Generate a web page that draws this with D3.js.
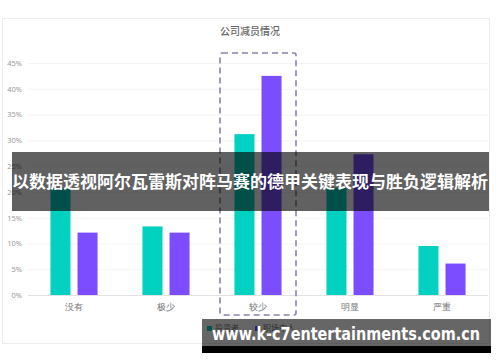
<!DOCTYPE html>
<html>
<head>
<meta charset="utf-8">
<script src="https://cdn.jsdelivr.net/npm/d3@7"></script>
<style>
  html, body { margin: 0; padding: 0; background: #fff; }
  svg { display: block; font-family: "Noto Sans CJK SC", "Noto Sans", sans-serif; }
</style>
</head>
<body>
<script>
const [W, H] = [500, 362];
const PLOT = { left: 28, right: 488, top: 63, bottom: 295 };

const CATEGORIES = ['没有', '极少', '较少', '明显', '严重'];
const SERIES_NAMES = ['投资者', '职场中人'];
const SERIES_A = [20.8, 13.3, 31.2, 20.8, 9.5];
const SERIES_B = [12.1, 12.1, 42.5, 27.3, 6.1];
const Y_TICKS = [0, 5, 10, 15, 20, 25, 30, 35, 40, 45];
const HIGHLIGHT = '较少';

const COLORS = ['#00d1c1', '#7b4dff'];

const svg = d3.select('body').append('svg').attr('width', W).attr('height', H);

// card
svg.append('rect')
    .attr('x', 2.5).attr('y', 18.5)
    .attr('width', 487).attr('height', 325)
    .attr('fill', '#fff')
    .attr('stroke', '#ececec');

// title
svg.append('text')
    .attr('x', 250).attr('y', 35)
    .attr('text-anchor', 'middle')
    .style('font-size', '10px')
    .style('font-weight', 500)
    .attr('fill', '#666')
    .text('公司减员情况');

const x = d3.scaleBand().domain(CATEGORIES).range([PLOT.left, PLOT.right]);
const xSub = d3.scaleBand().domain([0, 1]).range([0, x.bandwidth()])
    .paddingInner(0.26).paddingOuter(0.83);
const y = d3.scaleLinear().domain([0, 45]).range([PLOT.bottom, PLOT.top]);

// grid + y labels
const yAxis = d3.axisLeft(y)
    .tickValues(Y_TICKS)
    .tickSize(-(PLOT.right - PLOT.left))
    .tickFormat(d => d + '%');

const gy = svg.append('g')
    .attr('transform', 'translate(' + PLOT.left + ',0)')
    .call(yAxis);
gy.select('.domain').remove();
gy.selectAll('.tick line').attr('stroke', d => d === 0 ? '#e2e2e2' : '#f3f3f3');
gy.selectAll('.tick text')
    .attr('x', -6)
    .attr('fill', '#9a9a9a')
    .style('font-size', '7.5px')
    .style('font-family', '"Noto Sans", sans-serif');

// x labels
const xAxis = d3.axisBottom(x).tickSize(0).tickPadding(9);
const gx = svg.append('g')
    .attr('transform', 'translate(0,' + PLOT.bottom + ')')
    .call(xAxis);
gx.select('.domain').remove();
gx.selectAll('.tick text')
    .attr('fill', '#777')
    .style('font-size', '9px');

// bars
const rows = CATEGORIES.map((c, i) => ({ cat: c, values: [SERIES_A[i], SERIES_B[i]] }));
const groups = svg.selectAll('g.group')
    .data(rows)
    .enter()
    .append('g')
    .attr('class', 'group')
    .attr('transform', d => 'translate(' + x(d.cat) + ',0)');

groups.selectAll('rect')
    .data(d => d.values.map((v, k) => ({ v, k })))
    .enter()
    .append('rect')
    .attr('x', d => xSub(d.k))
    .attr('width', xSub.bandwidth())
    .attr('y', d => y(d.v))
    .attr('height', d => y(0) - y(d.v))
    .attr('fill', d => COLORS[d.k]);

// highlight dashed box
svg.append('rect')
    .attr('x', x(HIGHLIGHT) + 8)
    .attr('y', y(45) - 10)
    .attr('width', x.bandwidth() - 16)
    .attr('height', y(0) + 20 - (y(45) - 10))
    .attr('rx', 2)
    .attr('fill', 'none')
    .attr('stroke', '#8b82aa')
    .attr('stroke-width', 1.6)
    .attr('stroke-dasharray', '6,4');

// legend
const legend = svg.append('g').attr('transform', 'translate(207,329)');
SERIES_NAMES.forEach((name, i) => {
    const g = legend.append('g').attr('transform', 'translate(' + (i * 48) + ',0)');
    g.append('rect').attr('x', 0).attr('y', -3).attr('width', 5).attr('height', 5).attr('fill', COLORS[i]);
    g.append('text').attr('x', 8).attr('y', 2).style('font-size', '8px').attr('fill', '#777').text(name);
});

// banner overlay
svg.append('rect')
    .attr('x', 12).attr('y', 152)
    .attr('width', 477).attr('height', 59)
    .attr('fill', 'rgba(0,0,0,0.62)');
svg.append('text')
    .attr('x', 250).attr('y', 187.5)
    .attr('text-anchor', 'middle')
    .attr('textLength', 476)
    .attr('lengthAdjust', 'spacingAndGlyphs')
    .style('font-size', '16.5px')
    .style('font-weight', 'bold')
    .attr('fill', '#fff')
    .text('以数据透视阿尔瓦雷斯对阵马赛的德甲关键表现与胜负逻辑解析');

// watermark
svg.append('rect')
    .attr('x', 202).attr('y', 319)
    .attr('width', 289).attr('height', 27)
    .attr('fill', 'rgba(0,0,0,0.6)');
svg.append('rect')
    .attr('x', 202).attr('y', 346)
    .attr('width', 289).attr('height', 7)
    .attr('fill', '#000');
svg.append('text')
    .attr('x', 212).attr('y', 340)
    .attr('textLength', 268)
    .attr('lengthAdjust', 'spacingAndGlyphs')
    .style('font-size', '17px')
    .style('font-weight', 'bold')
    .style('font-family', '"DejaVu Sans", sans-serif')
    .attr('fill', '#fff')
    .text('www.k-c7entertainments.com.cn');
</script>
</body>
</html>
